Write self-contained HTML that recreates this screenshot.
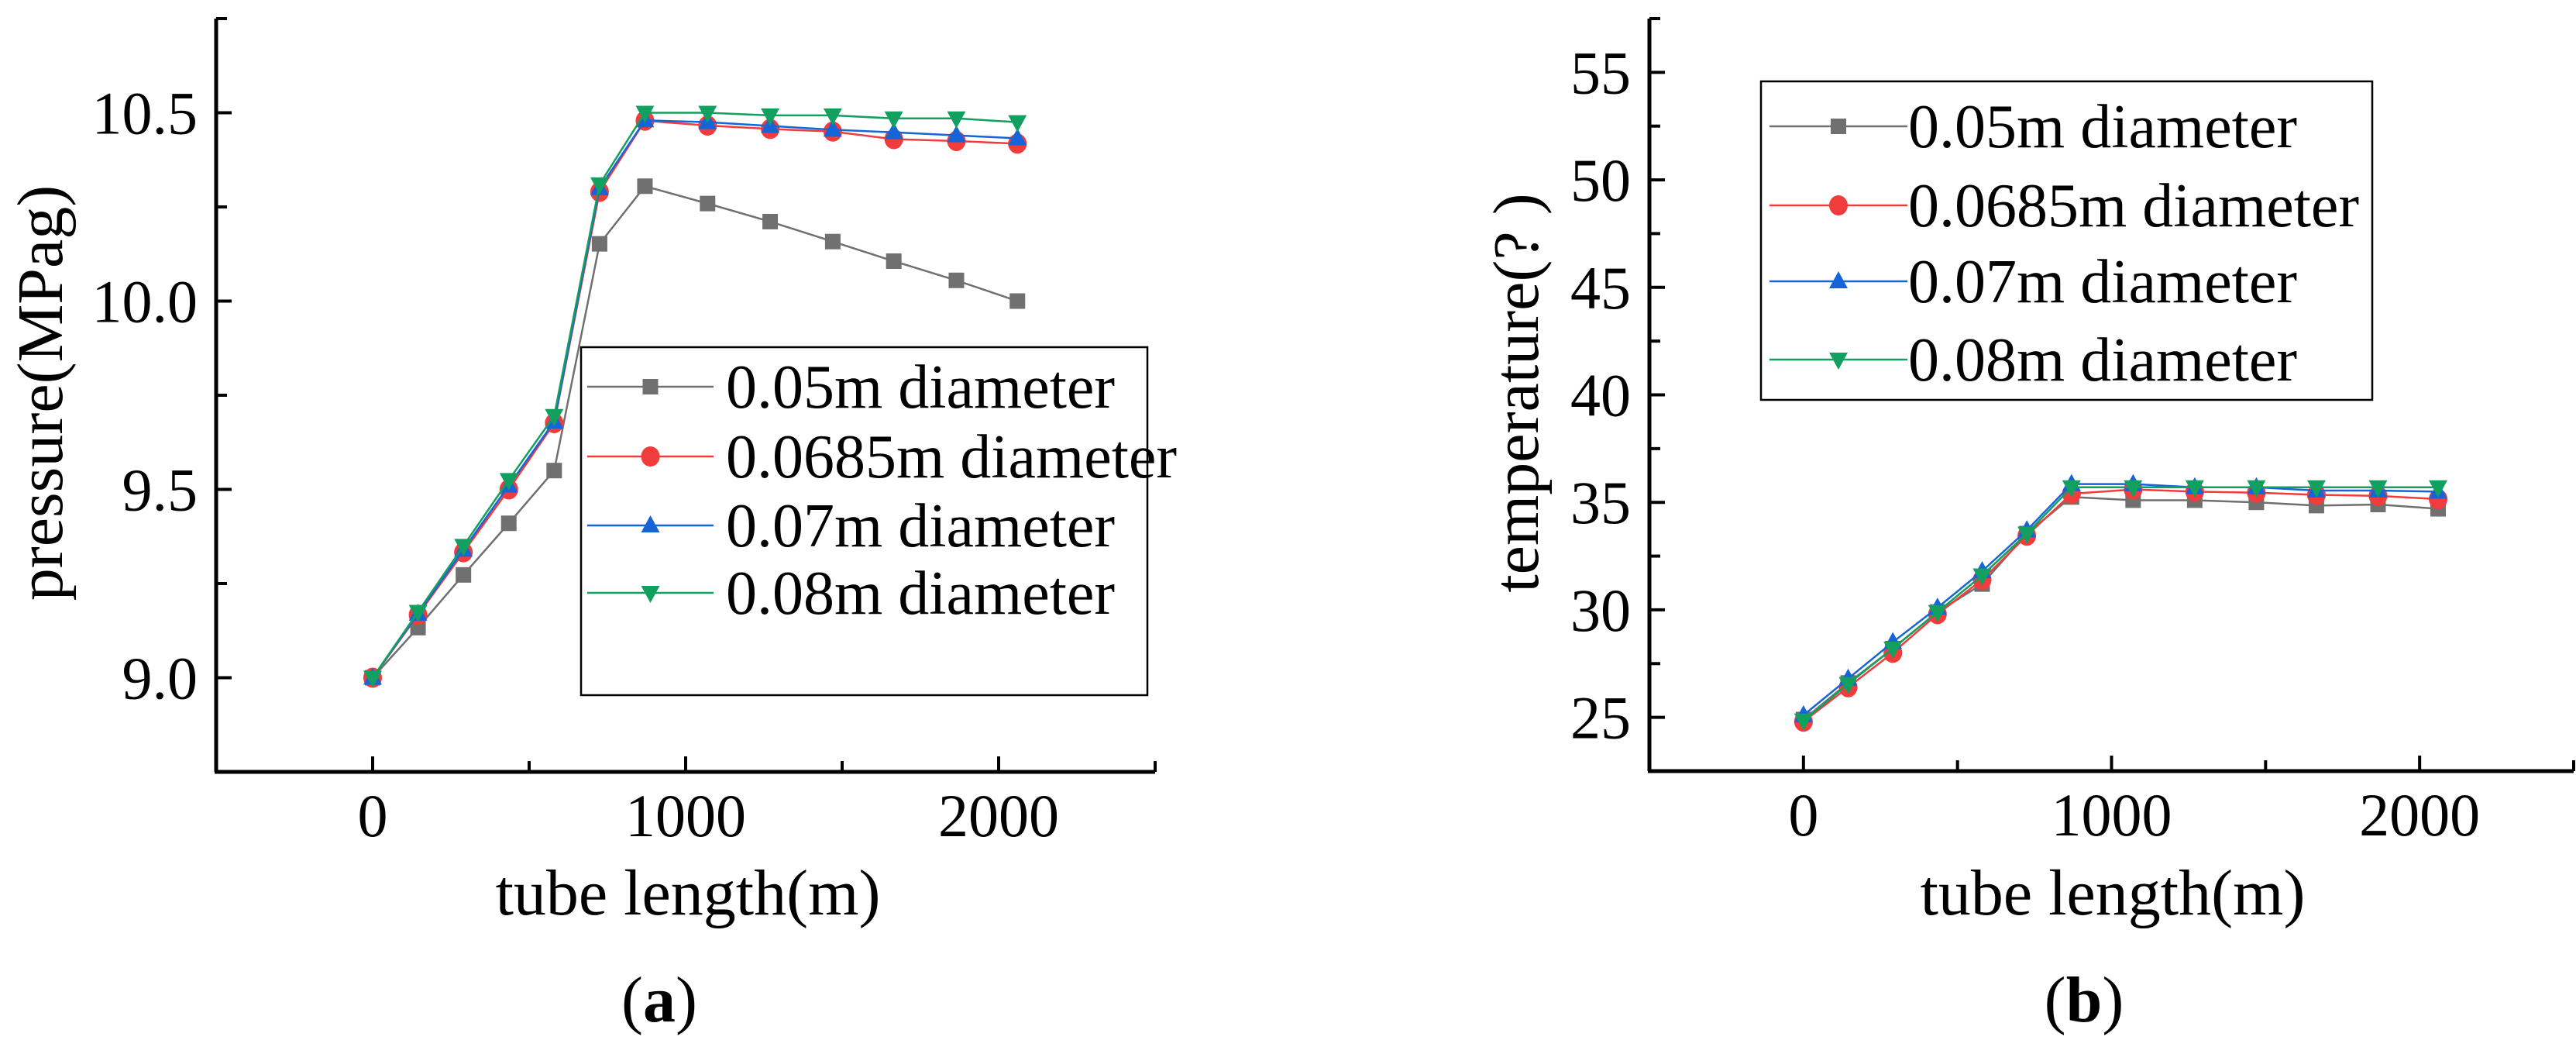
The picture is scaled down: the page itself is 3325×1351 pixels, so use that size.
<!DOCTYPE html>
<html><head><meta charset="utf-8">
<style>
html,body{margin:0;padding:0;background:#fff;}
svg{display:block;font-family:"Liberation Serif",serif;}
</style></head>
<body>
<svg id="fig" width="3325" height="1351" viewBox="0 0 3325 1351" xmlns="http://www.w3.org/2000/svg"></svg>
<script>
const xLengths = [0,145,290,435,580,725,870,1070,1270,1470,1665,1865,2060];
const seriesNames = ["0.05m diameter","0.0685m diameter","0.07m diameter","0.08m diameter"];
const pressure005 = [9.0,9.133,9.273,9.41,9.55,10.152,10.305,10.259,10.211,10.158,10.106,10.055,10.0];
const pressure0685 = [9.0,9.167,9.333,9.50,9.676,10.29,10.479,10.466,10.457,10.45,10.43,10.425,10.418];
const pressure007 = [9.0,9.17,9.34,9.51,9.68,10.30,10.48,10.475,10.465,10.455,10.448,10.44,10.432];
const pressure008 = [9.0,9.175,9.35,9.525,9.695,10.31,10.5,10.5,10.493,10.493,10.485,10.485,10.475];
const temp005 = [24.9,26.6,28.2,29.9,31.2,33.55,35.25,35.1,35.1,35.0,34.85,34.9,34.7];
const temp0685 = [24.8,26.4,28.0,29.8,31.4,33.45,35.4,35.6,35.5,35.45,35.35,35.3,35.15];
const temp007 = [25.1,26.8,28.5,30.1,31.8,33.7,35.85,35.85,35.7,35.7,35.55,35.55,35.5];
const temp008 = [24.85,26.55,28.2,29.9,31.6,33.55,35.7,35.7,35.7,35.7,35.7,35.7,35.7];
const xTickLabels = ["0","1000","2000"];
const pressureTickLabels = ["9.0","9.5","10.0","10.5"];
const tempTickLabels = ["25","30","35","40","45","50","55"];

const NS="http://www.w3.org/2000/svg";
const svg=document.getElementById('fig');
const colors=["#707070","#f03c3c","#1565d8","#12a060"];
const markers=["square","circle","up","down"];
function mk(tag,attrs,parent){const e=document.createElementNS(NS,tag);for(const k in attrs)e.setAttribute(k,attrs[k]);(parent||svg).appendChild(e);return e;}

function marker(g,type,x,y,c){
  let e;
  if(type==="square"){e=mk('rect',{x:x-10,y:y-10,width:20,height:20,fill:c},g);}
  else if(type==="circle"){e=mk('ellipse',{cx:x,cy:y,rx:12,ry:13,fill:c},g);}
  else if(type==="up"){e=mk('polygon',{points:`${x},${y-13} ${x-12},${y+9} ${x+12},${y+9}`,fill:c},g);}
  else {e=mk('polygon',{points:`${x},${y+13} ${x-12},${y-9} ${x+12},${y-9}`,fill:c},g);}
  
  
}

function chart(cfg){
  const g=mk('g',{});
  
  
  const X=v=>cfg.x0+(v-(-500))/3000*(cfg.x1-cfg.x0);
  const Y=v=>cfg.yb-(v-cfg.ymin)/(cfg.ymax-cfg.ymin)*(cfg.yb-cfg.yt);
  // axes
  const ya=mk('line',{x1:cfg.x0,y1:cfg.yt,x2:cfg.x0,y2:cfg.yb,stroke:"#000","stroke-width":5},g);
  
  const xa=mk('line',{x1:cfg.x0-2,y1:cfg.yb,x2:cfg.x1,y2:cfg.yb,stroke:"#000","stroke-width":5},g);
  
  // x ticks
  for(let v=-500;v<=2500;v+=500){
    if(v===-500) continue;
    const t=mk('line',{x1:X(v),y1:cfg.yb,x2:X(v),y2:cfg.yb-(v%1000===0?20:14),stroke:"#000","stroke-width":4},g);
    
  }
  xTickLabels.forEach(s=>{
    const v=parseFloat(s);
    const t=mk('text',{x:X(v),y:cfg.yb+83,"font-size":78,"text-anchor":"middle"},g);t.textContent=s;
    
  });
  // y ticks
  for(let v=cfg.ymin;v<=cfg.ymax+1e-9;v+=cfg.minor){
    const major=cfg.ylabels.some(s=>Math.abs(parseFloat(s)-v)<1e-6);
    const t=mk('line',{x1:cfg.x0,y1:Y(v),x2:cfg.x0+(major?20:14),y2:Y(v),stroke:"#000","stroke-width":4},g);
    
  }
  cfg.ylabels.forEach(s=>{
    const t=mk('text',{x:cfg.x0-24,y:Y(parseFloat(s))+27,"font-size":78,"text-anchor":"end"},g);t.textContent=s;
    
  });
  // titles
  const xt=mk('text',{x:cfg.xtx,y:1180,"font-size":84,"text-anchor":"middle"},g);xt.textContent="tube length(m)";
  
  const yt=mk('text',{x:0,y:0,"font-size":84,"text-anchor":"middle",transform:`translate(${cfg.ytx},${cfg.yty}) rotate(-90)`},g);yt.textContent=cfg.ytitle;
  
  const cap=mk('text',{x:cfg.capx,y:1318,"font-size":84,"text-anchor":"middle"},g);
  cap.innerHTML='(<tspan font-weight="bold">'+cfg.cap+'</tspan>)';
  
  // series
  cfg.series.forEach((arr,i)=>{
    const sg=mk('g',{},g);
    
    
    const pts=arr.map((v,j)=>X(xLengths[j])+','+Y(v)).join(' ');
    const pl=mk('polyline',{points:pts,fill:"none",stroke:colors[i],"stroke-width":2.5},sg);
    
    arr.forEach((v,j)=>marker(sg,markers[i],X(xLengths[j]),Y(v),colors[i]));
  });
  // legend
  const L=cfg.legend;
  const lg=mk('g',{},g);
  
  mk('rect',{x:L.x,y:L.y,width:L.w,height:L.h,fill:"#fff",stroke:"#000","stroke-width":2.5},lg);
  seriesNames.forEach((n,i)=>{
    const eg=mk('g',{},lg);
    
    const ry=L.rows[i];
    mk('line',{x1:L.lx1,y1:ry,x2:L.lx2,y2:ry,stroke:colors[i],"stroke-width":2.5},eg);
    marker(eg,markers[i],(L.lx1+L.lx2)/2,ry,colors[i]);
    const t=mk('text',{x:L.tx,y:ry+27,"font-size":80},eg);t.textContent=n;
    
  });
}

chart({name:'pressure-chart',x0:279,x1:1491,yt:24,yb:996,ymin:8.75,ymax:10.75,minor:0.25,
  ylabels:pressureTickLabels,ytitle:"pressure(MPag)",ytx:80,yty:507,xtx:888,capx:851,cap:"a",
  series:[pressure005,pressure0685,pressure007,pressure008],
  legend:{x:750,y:448,w:731,h:449,lx1:758,lx2:921,tx:937,rows:[499,589,678,765]}});
chart({name:'temperature-chart',x0:2129,x1:3322,yt:24,yb:995,ymin:22.5,ymax:57.5,minor:2.5,
  ylabels:tempTickLabels,ytitle:"temperature(?  )",ytx:1985,yty:507,xtx:2727,capx:2690,cap:"b",
  series:[temp005,temp0685,temp007,temp008],
  legend:{x:2273,y:105,w:789,h:411,lx1:2284,lx2:2462,tx:2463,rows:[163,265,363,464]}});
</script>
</body></html>
